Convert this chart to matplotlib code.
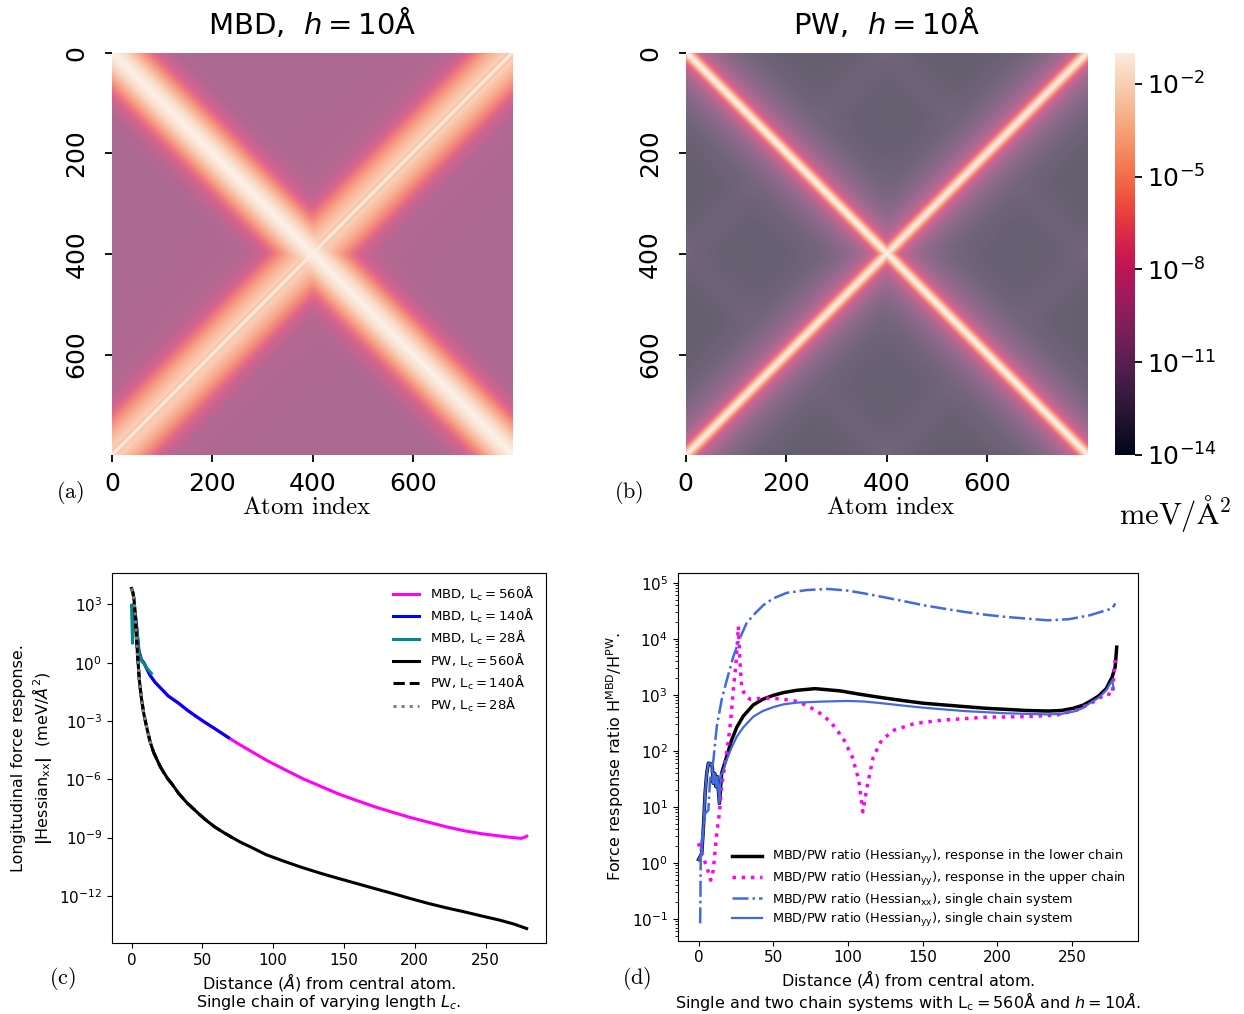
import numpy as np
import matplotlib
matplotlib.use("Agg")
import matplotlib.pyplot as plt
import matplotlib.cm as cm
from matplotlib.colors import LogNorm
import seaborn as sns

# ---------------- (a)/(b) heatmaps: log10 |Hessian| vs index offset from the diagonals
n_atoms = 800
mbd_main_off = [0, 20, 32, 45, 60, 75, 95, 120, 160, 800]
mbd_main_log = [-1.0, -1.9, -2.8, -4.0, -5.4, -6.8, -8.2, -9.3, -9.8, -9.9]
mbd_anti_off = [0, 4, 8, 12, 20, 32, 50, 68, 85, 105, 135, 800]
mbd_anti_log = [-1.2, -2.0, -3.6, -2.7, -3.0, -3.6, -4.7, -6.0, -7.3, -8.6, -9.6, -12.0]
pw_diag_off = [0, 4, 8, 12, 18, 25, 40, 60, 90, 130, 200, 800]
pw_main_log = [-1.0, -1.8, -2.8, -4.5, -6.5, -8.0, -9.5, -10.6, -11.6, -12.5, -13.3, -14.0]
pw_anti_log = [-1.2, -2.0, -3.0, -4.7, -6.6, -8.1, -9.6, -10.7, -11.7, -12.6, -13.4, -14.0]
pw_edge_off = [0, 30, 60, 100, 800]
pw_edge_log = [-12.8, -13.1, -13.6, -14.4, -16.0]
heat_ticks = [0, 200, 400, 600]
cbar_ticks = [1e-14, 1e-11, 1e-8, 1e-5, 1e-2]

# ---------------- (c) longitudinal response, single chain (x in Angstrom, y as log10)
mbd560_x = [0, 1.4, 3.0, 5.2, 7.0, 8.8, 11, 13, 16.5, 20.7, 26, 33.3, 39.5, 45.9, 52, 58.5,
            63.5, 68.5, 76, 83.7, 96, 108.9, 121, 134.1, 146, 159.3, 172, 184.5, 197,
            209.7, 222, 234.9, 247, 260.1, 268, 275.2, 277.7, 279]
mbd560_y = [2.9, 2.9, 2.3, 0.6, 0.15, -0.02, -0.35, -0.64, -1.0, -1.32, -1.72, -2.09,
            -2.45, -2.78, -3.08, -3.38, -3.62, -3.86, -4.2, -4.53, -5.05, -5.53, -5.97,
            -6.38, -6.75, -7.10, -7.42, -7.70, -7.97, -8.21, -8.44, -8.65, -8.8, -8.92,
            -8.99, -9.04, -8.98, -8.93]
mbd140_x = mbd560_x[:18]
mbd140_y = mbd560_y[:18]
mbd28_x = [0, 0.7, 1.4, 3.0, 5.2, 7.0, 8.8, 11, 14]
mbd28_y = [2.95, 1.0, 3.0, 2.2, 0.5, 0.1, -0.05, -0.3, -0.55]
pw560_x = [0, 1, 1.8, 2.5, 3.0, 3.6, 4.3, 5.5, 6.8, 8.6, 10.6, 13.1, 15.5, 18.1, 20.5, 23.2,
           25.5, 28.2, 33.3, 39, 45.9, 52, 58.5, 65, 71.1, 77, 83.7, 95, 108.9, 120, 134.1,
           146, 159.3, 172, 184.5, 197, 209.7, 222, 234.9, 247, 260.1, 270, 279]
pw560_y = [3.82, 3.6, 3.22, 2.5, 1.85, 1.1, 0.31, -0.89, -1.75, -2.61, -3.3, -4.07, -4.6,
           -5.01, -5.38, -5.7, -5.97, -6.21, -6.73, -7.2, -7.67, -8.07, -8.44, -8.74, -9.0,
           -9.24, -9.47, -9.88, -10.25, -10.53, -10.85, -11.1, -11.37, -11.63, -11.88,
           -12.14, -12.39, -12.61, -12.82, -13.03, -13.25, -13.45, -13.68]
pw140_x = pw560_x[:25]
pw140_y = pw560_y[:25]
pw28_x = pw560_x[:12] + [14]
pw28_y = pw560_y[:12] + [-4.3]

# ---------------- (d) MBD/PW ratios, L_c = 560 A, h = 10 A
lower_x = [0, 2.2, 3.3, 4.4, 5.5, 6.6, 8.1, 9.2, 9.9, 10.8, 11.7, 12.6, 14.0, 15.5, 18.9,
           22, 25.6, 30, 36.7, 43, 50, 57, 65.7, 78, 94.8, 108, 122.6, 136, 150.5, 164,
           178, 192, 206, 220, 234, 243, 251, 257, 262, 268, 273, 277, 279, 280]
lower_y = [0.06, 0.17, 0.64, 1.24, 1.6, 1.78, 1.77, 1.72, 1.42, 1.6, 1.36, 1.54, 1.06,
           1.6, 1.9, 2.18, 2.42, 2.62, 2.82, 2.92, 2.99, 3.04, 3.08, 3.11, 3.07, 3.01,
           2.95, 2.90, 2.85, 2.82, 2.79, 2.76, 2.74, 2.72, 2.71, 2.72, 2.76, 2.81, 2.88,
           2.98, 3.11, 3.32, 3.5, 3.85]
upper_x = [0, 2.2, 5.5, 8.2, 9.9, 12.2, 14, 15.5, 17.8, 20, 21.6, 23.3, 25.1, 26, 26.7,
           27.7, 28.9, 31.1, 34.5, 43.4, 54.5, 66.9, 78, 84, 89.2, 93, 97.5, 103, 107.3,
           110, 112.9, 117, 122.6, 131, 145, 164.4, 192.3, 220, 240, 253.6, 264.8, 273,
           277, 279]
upper_y = [0.35, 0.17, -0.07, -0.31, -0.13, 0.53, 0.89, 1.36, 1.78, 2.19, 2.55, 3.09,
           3.56, 3.92, 4.22, 3.62, 3.14, 2.99, 2.92, 2.94, 2.93, 2.88, 2.73, 2.62, 2.49,
           2.36, 2.19, 1.89, 1.48, 0.91, 1.36, 1.89, 2.19, 2.37, 2.49, 2.55, 2.60, 2.61,
           2.64, 2.73, 2.88, 3.02, 3.0, 3.62]
single_xx_x = [1.1, 1.3, 1.5, 4.4, 6.6, 7.7, 10, 12.2, 15.5, 18.9, 23.3, 27.7, 32.2, 37,
               43.4, 50, 59, 72.5, 86.4, 100, 111, 122.6, 136, 150.5, 164, 178, 192, 206,
               220, 234, 248, 262, 273, 277, 279]
single_xx_y = [-1.08, -0.6, 0.23, 0.88, 0.94, 1.48, 1.84, 2.43, 2.91, 3.26, 3.68, 4.01,
               4.28, 4.43, 4.6, 4.72, 4.82, 4.87, 4.89, 4.86, 4.81, 4.75, 4.68, 4.60,
               4.54, 4.48, 4.43, 4.39, 4.36, 4.33, 4.35, 4.42, 4.51, 4.54, 4.63]
single_yy_x = [0, 2.2, 3.3, 4.4, 5.5, 6.6, 8.1, 9.2, 9.9, 10.8, 11.7, 12.6, 14.0, 14.9,
               16.2, 18.9, 22, 25.6, 30, 36.7, 43, 50, 57, 65.7, 83.6, 100, 111, 122.6,
               136, 150.5, 164, 178, 192, 206, 220, 234, 243, 251, 257, 262, 268, 273,
               277, 278]
single_yy_y = [0.06, 0.17, 0.64, 1.24, 1.6, 1.78, 1.77, 1.72, 1.42, 1.6, 1.36, 1.54, 1.06,
               1.57, 1.62, 1.84, 2.05, 2.25, 2.42, 2.61, 2.71, 2.78, 2.83, 2.86, 2.88,
               2.89, 2.88, 2.85, 2.81, 2.77, 2.74, 2.71, 2.69, 2.67, 2.66, 2.65, 2.66,
               2.70, 2.76, 2.85, 2.95, 3.08, 3.26, 3.1]


def from_profile(dist, off, logv):
    return 10.0 ** np.interp(dist, off, logv)


W, H = 1244, 1014


def box(x0, y0, x1, y1):
    return [x0 / W, 1 - y1 / H, (x1 - x0) / W, (y1 - y0) / H]


def ftext(x, y, s, **kw):
    fig.text(x / W, 1 - y / H, s, ha='center', va='center', **kw)


rocket = sns.color_palette("rocket", as_cmap=True)
norm = LogNorm(vmin=1e-14, vmax=1e-1)

idx = np.arange(n_atoms)
I, J = np.meshgrid(idx, idx, indexing='ij')
d_main = np.abs(I - J)
d_anti = np.abs(I + J - (n_atoms - 1))
mbd_map = from_profile(d_main, mbd_main_off, mbd_main_log) + \
    from_profile(d_anti, mbd_anti_off, mbd_anti_log)
pw_map = from_profile(d_main, pw_diag_off, pw_main_log) + \
    from_profile(d_anti, pw_diag_off, pw_anti_log) + \
    from_profile(np.abs(d_main - 400), pw_edge_off, pw_edge_log) + \
    from_profile(np.abs(d_anti - 400), pw_edge_off, pw_edge_log)

fig = plt.figure(figsize=(W / 100, H / 100), dpi=100)

ax_a = fig.add_axes(box(112, 53, 513, 455))
ax_b = fig.add_axes(box(685.5, 53, 1087.5, 455))
cax = fig.add_axes(box(1115, 53, 1135, 455))

for ax, data, name in [(ax_a, mbd_map, 'MBD'), (ax_b, pw_map, 'PW')]:
    ax.imshow(data, cmap=rocket, norm=norm, alpha=0.67, extent=(0, n_atoms, n_atoms, 0),
              aspect='auto', interpolation='bilinear')
    for sp in ax.spines.values():
        sp.set_visible(False)
    ax.set_xticks(heat_ticks)
    ax.set_yticks(heat_ticks)
    ax.tick_params(labelsize=18, length=5, width=1.3)
    ax.tick_params(axis='x', pad=7)
    ax.tick_params(axis='y', pad=12)
    plt.setp(ax.get_yticklabels(), rotation=90, va='center')
    ax.set_title(name + r',  $h = 10$Å', fontsize=21, pad=14)

cbar = fig.colorbar(cm.ScalarMappable(norm=norm, cmap=rocket), cax=cax, ticks=cbar_ticks)
cbar.outline.set_visible(False)
cax.tick_params(labelsize=18, length=5, width=1.3)
cax.minorticks_off()

ftext(70, 493, r'$\mathrm{(a)}$', fontsize=16, math_fontfamily='cm')
ftext(629, 493, r'$\mathrm{(b)}$', fontsize=16, math_fontfamily='cm')
ftext(307, 507, r'$\mathrm{Atom\ index}$', fontsize=18, math_fontfamily='cm')
ftext(891, 507, r'$\mathrm{Atom\ index}$', fontsize=18, math_fontfamily='cm')
ftext(1175, 513, r'$\mathrm{meV}/\mathrm{\AA}^2$', fontsize=22, math_fontfamily='cm')

# ---------------- (c)
ax_c = fig.add_axes(box(111.8, 572.7, 546.4, 943.3))
lw = 2.2
ax_c.plot(mbd560_x, 10.0 ** np.array(mbd560_y), color='magenta', lw=lw,
          label=r'MBD, L$_{\mathrm{c}} = 560$Å')
ax_c.plot(mbd140_x, 10.0 ** np.array(mbd140_y), color='blue', lw=lw,
          label=r'MBD, L$_{\mathrm{c}} = 140$Å')
ax_c.plot(mbd28_x, 10.0 ** np.array(mbd28_y), color='darkcyan', lw=lw,
          label=r'MBD, L$_{\mathrm{c}} = 28$Å')
ax_c.plot(pw560_x, 10.0 ** np.array(pw560_y), color='black', lw=lw,
          label=r'PW, L$_{\mathrm{c}} = 560$Å')
ax_c.plot(pw140_x, 10.0 ** np.array(pw140_y), color='black', lw=lw, ls='--',
          label=r'PW, L$_{\mathrm{c}} = 140$Å')
ax_c.plot(pw28_x, 10.0 ** np.array(pw28_y), color='grey', lw=lw, ls=':',
          label=r'PW, L$_{\mathrm{c}} = 28$Å')
ax_c.set_yscale('log')
ax_c.set_ylim(10 ** -14.44, 10 ** 4.63)
ax_c.set_yticks([1e-12, 1e-9, 1e-6, 1e-3, 1e0, 1e3])
ax_c.minorticks_off()
ax_c.set_xticks([0, 50, 100, 150, 200, 250])
ax_c.tick_params(labelsize=11)
ax_c.legend(loc='upper right', frameon=False, fontsize=9.5, labelspacing=0.32)
ax_c.set_xlabel('Distance ($\\mathit{Å}$) from central atom.\n'
                'Single chain of varying length $L_c$.', fontsize=11.5,
                linespacing=1.05, labelpad=2)
ax_c.set_ylabel('Longitudinal force response.\n'
                r'$\mathbf{|}$Hessian$_{\mathrm{xx}}$$\mathbf{|}$  (meV/$\mathit{Å}^2$)',
                fontsize=11.5)
ftext(62, 979, r'$\mathrm{(c)}$', fontsize=16, math_fontfamily='cm')

# ---------------- (d)
ax_d = fig.add_axes(box(677.6, 572.7, 1137.6, 940.7))
ax_d.plot(lower_x, 10.0 ** np.array(lower_y), color='black', lw=2.5,
          label=r'MBD/PW ratio (Hessian$_{\mathrm{yy}}$), response in the lower chain')
ax_d.plot(upper_x, 10.0 ** np.array(upper_y), color='magenta', lw=2.5, ls=':',
          label=r'MBD/PW ratio (Hessian$_{\mathrm{yy}}$), response in the upper chain')
ax_d.plot(single_xx_x, 10.0 ** np.array(single_xx_y), color='royalblue', lw=1.8, ls='-.',
          label=r'MBD/PW ratio (Hessian$_{\mathrm{xx}}$), single chain system')
ax_d.plot(single_yy_x, 10.0 ** np.array(single_yy_y), color='royalblue', lw=1.6,
          label=r'MBD/PW ratio (Hessian$_{\mathrm{yy}}$), single chain system')
ax_d.set_yscale('log')
ax_d.set_ylim(10 ** -1.39, 10 ** 5.18)
ax_d.set_xticks([0, 50, 100, 150, 200, 250])
ax_d.tick_params(labelsize=11)
ax_d.legend(loc='lower right', frameon=False, fontsize=9.3, labelspacing=0.25,
            handlelength=2.3)
ax_d.set_xlabel('Distance ($\\mathit{Å}$) from central atom.\n'
                r'Single and two chain systems with L$_{\mathrm{c}} = 560$Å and $h = 10\mathit{Å}$.',
                fontsize=11.5, linespacing=1.0, labelpad=2)
ax_d.set_ylabel(r'Force response ratio H$^{\mathrm{MBD}}$/H$^{\mathrm{PW}}$.', fontsize=11.5)
ftext(637, 978, r'$\mathrm{(d)}$', fontsize=16, math_fontfamily='cm')

fig.savefig('out.png', dpi=100)
